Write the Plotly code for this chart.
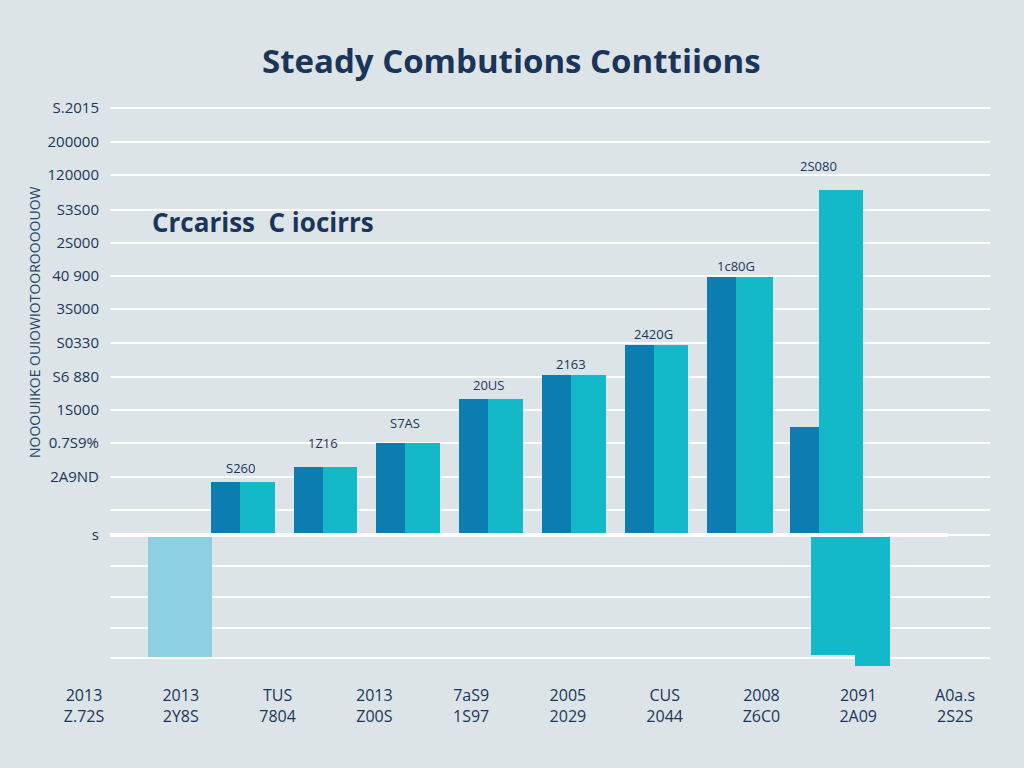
import plotly.graph_objects as go

# ---------------- data ----------------
groups = [1, 2, 3, 4, 5, 6, 7, 8]
dark_values = [3155, 4050, 5475, 8095, 9525, 11310, 15355, 6430]
teal_values = [3155, 4050, 5475, 8095, 9525, 11310, 15355, 20535]
value_labels = ["S260", "1Z16", "S7AS", "20US", "2163", "2420G", "1c80G", "2S080"]

neg_light_group = [0]
neg_light_values = [-7260]
neg_teal_groups = [8, 8]
neg_teal_values = [-7800, -7140]

y_tick_vals = [0, 1490, 3450, 5480, 7440, 9400, 11430, 13450, 15420, 17380,
               19350, 21430, 23390, 25420, -1850, -3690, -5540, -7320]
y_tick_text = ["s", "", "2A9ND", "0.7S9%", "1S000", "S6 880", "S0330", "3S000",
               "40 900", "2S000", "S3S00", "120000", "200000", "S.2015",
               "", "", "", ""]

x_labels_top = ["2013", "2013", "TUS", "2013", "7aS9", "2005", "CUS", "2008", "2091", "A0a.s"]
x_labels_bottom = ["Z.72S", "2Y8S", "7804", "Z00S", "1S97", "2029", "2044", "Z6C0", "2A09", "2S2S"]

title_text = "Steady Combutions Conttiions"
subtitle_text = "Crcariss  C iocirrs"
y_title_text = "NOOOUIIKOE OUIOWIOTOOROOOOUOW"

# ---------------- style ----------------
BG = "#dce4e7"
NAVY = "#1b355a"
DARK = "#0b7db1"
TEAL = "#13b9c8"
LIGHT = "#8dd0e1"
label_shift = [14, 24, 20, 14, 11, 11, 11, 24]

fig = go.Figure()

fig.add_trace(go.Bar(x=neg_light_group, y=neg_light_values, marker_color=LIGHT,
                     width=0.77, offset=-0.11, marker_line_width=0, hoverinfo="skip"))
fig.add_trace(go.Bar(x=neg_teal_groups, y=neg_teal_values, marker_color=TEAL,
                     width=[0.42, 0.955], offset=[0.435, -0.10], marker_line_width=0,
                     hoverinfo="skip"))
fig.add_trace(go.Bar(x=groups, y=dark_values, marker_color=DARK,
                     width=0.35, offset=-0.35, marker_line_width=0))
fig.add_trace(go.Bar(x=groups, y=teal_values, marker_color=TEAL,
                     width=[0.42] * 6 + [0.45, 0.53], offset=0, marker_line_width=0))

# invisible trace to carry the bottom category axis (separate thin subplot)
fig.add_trace(go.Scatter(x=list(range(len(x_labels_top))), y=[None] * len(x_labels_top),
                         xaxis="x2", yaxis="y2", mode="markers", hoverinfo="skip"))

for g, v, t, s in zip(groups, teal_values, value_labels, label_shift):
    fig.add_annotation(x=g, y=v, text=t, showarrow=False, yshift=s,
                       font=dict(family="Open Sans", size=13, color=NAVY))

fig.add_annotation(xref="paper", yref="paper", x=511 / 1024, y=1 - 60 / 768,
                   xanchor="center", yanchor="middle",
                   text=title_text, showarrow=False,
                   font=dict(family="Open Sans", size=33, color=NAVY, weight=700))
fig.add_annotation(xref="paper", yref="paper", x=150 / 1024, y=1 - 222 / 768,
                   xanchor="left", yanchor="middle", text=subtitle_text, showarrow=False,
                   font=dict(family="Open Sans", size=26, color=NAVY, weight=700))
fig.add_annotation(xref="paper", yref="paper", x=35 / 1024, y=1 - 322 / 768,
                   xanchor="center", yanchor="middle",
                   text=y_title_text, textangle=-90, showarrow=False,
                   font=dict(family="Open Sans", size=14, color="#2a4668"))

fig.add_shape(type="line", xref="x domain", yref="y", x0=0, x1=0.952, y0=0, y1=0,
              line=dict(color="white", width=4), layer="above")

fig.update_layout(
    width=1024, height=768, template="none",
    margin=dict(l=0, r=0, t=0, b=0),
    paper_bgcolor=BG, plot_bgcolor=BG,
    barmode="overlay", showlegend=False, bargap=0,
    xaxis=dict(domain=[110 / 1024, 990 / 1024], range=[-0.572, 10.069],
               showgrid=False, zeroline=False, showticklabels=False,
               showline=False, automargin=False),
    yaxis=dict(domain=[0.11745, 0.87214], range=[-8500, 26000],
               tickvals=y_tick_vals, ticktext=y_tick_text,
               showgrid=True, gridcolor="rgba(255,255,255,0.9)", gridwidth=2,
               zeroline=False, showline=False, ticks="",
               ticklabelstandoff=10, automargin=False,
               tickfont=dict(family="Open Sans", size=15, color=NAVY)),
    xaxis2=dict(domain=[35.6 / 1024, 1003.4 / 1024], range=[-0.5, 9.5],
                anchor="y2", side="bottom",
                tickvals=list(range(len(x_labels_top))),
                ticktext=[a + "<br>" + b for a, b in zip(x_labels_top, x_labels_bottom)],
                showgrid=False, zeroline=False, showline=False, ticks="",
                ticklabelstandoff=2, automargin=False,
                tickfont=dict(family="Open Sans", size=16, color=NAVY)),
    yaxis2=dict(domain=[0.112, 0.116], anchor="x2", range=[0, 1],
                showgrid=False, zeroline=False, showline=False,
                showticklabels=False, ticks="", automargin=False),
)

fig.write_html("out.html")
